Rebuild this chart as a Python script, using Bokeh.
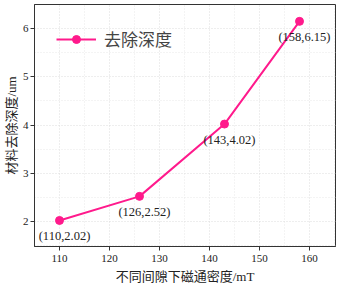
from bokeh.plotting import figure
from bokeh.models import Range1d, FixedTicker, Legend, LegendItem, LabelSet, ColumnDataSource
from bokeh.embed import file_html
from bokeh.resources import INLINE

flux = [110, 126, 143, 158]
depth = [2.02, 2.52, 4.02, 6.15]
labels = ["(110,2.02)", "(126,2.52)", "(143,4.02)", "(158,6.15)"]
series_name = "去除深度"
x_title = "不同间隙下磁通密度/mT"
y_title = "材料去除深度/um"
x_ticks = [110, 120, 130, 140, 150, 160]
y_ticks = [2, 3, 4, 5, 6]

color = "#FF1A8C"
serif = "Liberation Serif, Noto Sans CJK SC"

p = figure(width=338, height=286, output_backend="svg", toolbar_location=None,
           x_range=Range1d(105, 165.2), y_range=Range1d(1.48, 6.5),
           min_border_left=20, min_border_right=3, min_border_top=4, min_border_bottom=40)
p.background_fill_color = "white"
p.border_fill_color = "white"
p.outline_line_color = "#333333"
p.outline_line_width = 1

for ax in (p.xaxis, p.yaxis):
    ax.axis_line_color = "#333333"
    ax.major_tick_line_color = "#333333"
    ax.minor_tick_line_color = None
    ax.major_tick_out = 4
    ax.major_tick_in = 0
    ax.major_label_text_font = serif
    ax.major_label_text_font_size = "11px"
    ax.major_label_text_color = "#222222"
    ax.axis_label_text_font = serif
    ax.axis_label_text_font_size = "13px"
    ax.axis_label_text_font_style = "normal"
    ax.axis_label_text_color = "#222222"

p.xaxis.ticker = FixedTicker(ticks=x_ticks, minor_ticks=[105, 115, 125, 135, 145, 155, 165])
p.yaxis.ticker = FixedTicker(ticks=y_ticks, minor_ticks=[1.5, 2.5, 3.5, 4.5, 5.5, 6.5])
p.xaxis.axis_label = x_title
p.yaxis.axis_label = y_title
p.xaxis.axis_label_standoff = 4
p.yaxis.axis_label_standoff = 1
p.xaxis.major_label_standoff = 4
p.yaxis.major_label_standoff = 2

for g in (p.xgrid, p.ygrid):
    g.grid_line_color = "#dddddd"
    g.grid_line_dash = "1 2"
    g.minor_grid_line_color = "#e8e8e8"
    g.minor_grid_line_dash = "1 2"

src = ColumnDataSource(dict(x=flux, y=depth, t=labels))
r_line = p.line("x", "y", source=src, line_color=color, line_width=2)
r_pt = p.scatter("x", "y", source=src, size=8, fill_color=color, line_color=color)

lbl = LabelSet(x="x", y="y", text="t", source=src, x_offset=5, y_offset=-9,
               text_align="center", text_baseline="top", text_font=serif,
               text_font_size="12.5px", text_color="#222222")
p.add_layout(lbl)

legend = Legend(items=[LegendItem(label=series_name, renderers=[r_line, r_pt])],
                location="top_left", border_line_color=None, background_fill_alpha=0,
                label_text_font=serif, label_text_font_size="17px",
                glyph_width=40, label_standoff=8, margin=22, padding=6)
p.add_layout(legend)

open("out.html", "w").write(file_html(p, INLINE))
